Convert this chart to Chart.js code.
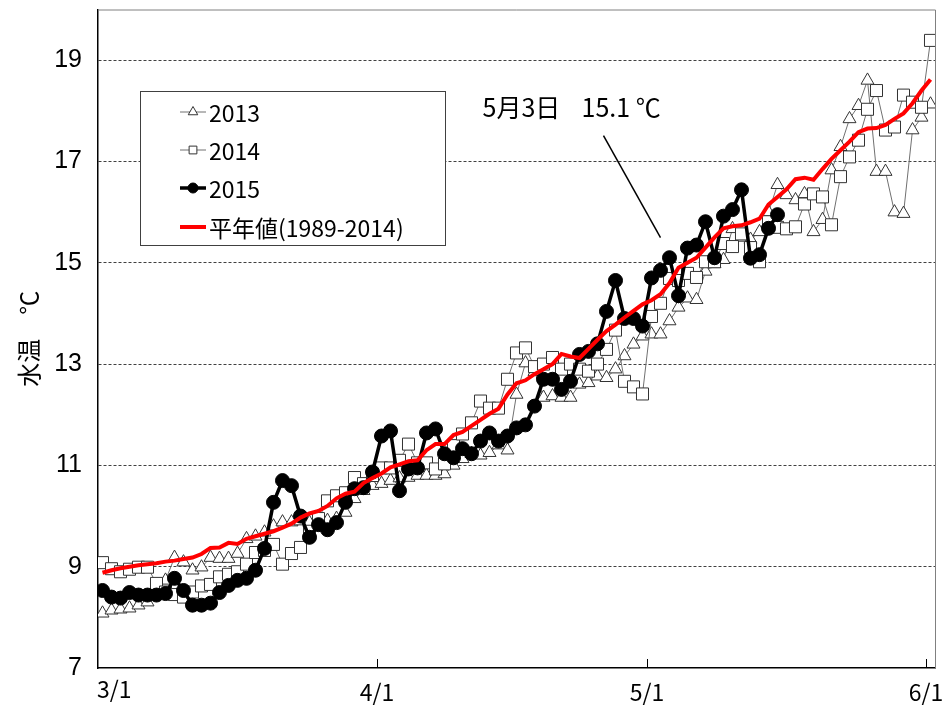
<!DOCTYPE html>
<html>
<head>
<meta charset="utf-8">
<script src="https://cdn.jsdelivr.net/npm/chart.js@4.4.1/dist/chart.umd.min.js"></script>
<style>
  html, body { margin: 0; padding: 0; background: #fff; }
</style>
</head>
<body>
<canvas id="tempChart" width="948" height="713"></canvas>
<script>
// day index: 0 = 3/1, 31 = 4/1, 61 = 5/1, 92 = 6/1
var xTickLabels = ["3/1", "4/1", "5/1", "6/1"];
var xTickDays = [0, 31, 61, 92];
var yTicks = [7, 9, 11, 13, 15, 17, 19];
var seriesNames = ["2013", "2014", "2015", "平年値(1989-2014)"];

var temp2013 = [
  8.08, 8.14, 8.16, 8.18, 8.24, 8.3, 8.5, 8.73, 9.18, 9.09,
  8.93, 8.99, 9.18, 9.16, 9.16, 9.26, 9.55, 9.6, 9.68, 9.8,
  9.88, 9.88, 9.9, 9.87, 9.9, 9.91, 9.95, 10.07, 10.34, 10.5,
  10.6, 10.64, 10.7, 10.75, 10.76, 10.8, 10.8, 10.8, 10.83, 11.0,
  11.13, 11.23, 11.2, 11.25, 11.4, 11.3, 12.4, 13.02, 12.85, 12.34,
  12.37, 12.34, 12.34, 12.6, 12.63, 12.76, 12.73, 12.9, 13.16, 13.39,
  13.55, 13.59, 13.59, 13.85, 14.12, 14.3, 14.27, 14.83, 14.98, 15.06,
  15.67, 15.5, 15.46, 15.61, 16.0, 16.54, 16.34, 16.24, 16.36, 15.61,
  15.85, 16.83, 17.29, 17.84, 18.1, 18.6, 16.8, 16.8, 16.0, 15.97,
  17.62, 17.87, 18.13
];

var temp2014 = [
  9.08, 8.96, 8.9, 8.95, 8.99, 8.99, 8.67, 8.5, 8.45, 8.4,
  8.5, 8.62, 8.65, 8.8, 8.85, 8.9, 9.05, 9.28, 9.32, 9.44,
  9.05, 9.26, 9.38, 9.7, 9.95, 10.3, 10.4, 10.46, 10.76, 10.64,
  10.8, 10.95, 10.95, 11.1, 11.42, 11.05, 11.05, 10.93, 11.03, 11.39,
  11.62, 11.84, 12.27, 12.13, 12.13, 12.7, 13.22, 13.32, 12.95, 13.0,
  13.13, 12.9, 13.0, 12.9, 12.86, 13.0, 13.29, 13.67, 12.66, 12.55,
  12.41, 13.94, 14.2, 14.69, 14.65, 14.79, 14.71, 15.02, 15.02, 15.38,
  15.32, 15.57, 15.3, 15.02, 15.81, 15.7, 15.67, 15.71, 16.16, 16.36,
  16.3, 15.75, 16.7, 17.09, 17.42, 18.03, 18.4, 17.62, 17.68, 18.31,
  18.17, 18.07, 19.39
];

var temp2015 = [
  8.53, 8.4, 8.38, 8.49, 8.44, 8.44, 8.44, 8.47, 8.77, 8.53,
  8.24, 8.24, 8.28, 8.49, 8.63, 8.73, 8.77, 8.93, 9.36, 10.27,
  10.7, 10.6, 10.0, 9.58, 9.83, 9.73, 9.87, 10.27, 10.54, 10.56,
  10.87, 11.58, 11.68, 10.5, 10.93, 10.95, 11.64, 11.72, 11.23, 11.15,
  11.33, 11.23, 11.48, 11.64, 11.48, 11.58, 11.74, 11.8, 12.17, 12.7,
  12.7, 12.5, 12.66, 13.19, 13.25, 13.4, 14.04, 14.65, 13.9, 13.9,
  13.75, 14.7, 14.85, 15.1, 14.35, 15.29, 15.35, 15.81, 15.1, 15.92,
  16.05, 16.44, 15.09, 15.16, 15.68, 15.95
];

var tempNormal = [
  8.88, 8.93, 8.97, 9.0, 9.03, 9.05, 9.07, 9.1, 9.12, 9.15,
  9.18, 9.25, 9.37, 9.38, 9.47, 9.45, 9.55, 9.6, 9.65, 9.7,
  9.77, 9.85, 9.97, 10.05, 10.1, 10.2, 10.35, 10.44, 10.48, 10.65,
  10.75, 10.84, 10.96, 11.02, 11.08, 11.1, 11.3, 11.42, 11.42, 11.6,
  11.66, 11.78, 11.9, 12.02, 12.12, 12.4, 12.62, 12.68, 12.8, 12.9,
  13.0, 13.2, 13.15, 13.12, 13.3, 13.48, 13.65, 13.78, 13.92, 14.05,
  14.18, 14.26, 14.38, 14.6, 14.9, 15.0, 15.1, 15.3, 15.5, 15.68,
  15.72, 15.74, 15.8, 15.87, 16.15, 16.3, 16.45, 16.65, 16.68, 16.64,
  16.85, 17.05, 17.22, 17.39, 17.58, 17.65, 17.66, 17.72, 17.84, 17.95,
  18.15, 18.4, 18.62
];

// annotation: 5/3 of 2015
var noteDay = 63;
var noteLabel = "5月3日";

function toPoints(arr) {
  return arr.map(function (v, i) {
    return { x: i, y: v };
  });
}

var jpFont = '"Noto Sans CJK JP", sans-serif';

// plot frame, inward x tick marks, first date label
var framePlugin = {
  id: "frame",
  beforeDatasetsDraw: function (chart) {
    var ctx = chart.ctx;
    var a = chart.chartArea;
    ctx.save();
    ctx.strokeStyle = "#808080";
    ctx.lineWidth = 1;
    ctx.beginPath();
    ctx.moveTo(a.left, a.top + 0.5);
    ctx.lineTo(a.right + 0.5, a.top + 0.5);
    ctx.lineTo(a.right + 0.5, a.bottom);
    ctx.stroke();
    ctx.strokeStyle = "#000";
    var xs = chart.scales.x;
    xTickDays.forEach(function (d, i) {
      if (i === 0) return;
      var px = Math.round(xs.getPixelForValue(d - 0.5)) + 0.5;
      ctx.beginPath();
      ctx.moveTo(px, a.bottom);
      ctx.lineTo(px, a.bottom - 9);
      ctx.stroke();
    });
    // the 3/1 label sits right of the axis start
    ctx.fillStyle = "#000";
    ctx.font = "23px " + jpFont;
    ctx.textAlign = "left";
    ctx.textBaseline = "top";
    ctx.fillText(xTickLabels[0], a.left - 1, a.bottom + 10);
    ctx.restore();
  },
};

// callout for 2015-05-03
var notePlugin = {
  id: "note",
  afterDatasetsDraw: function (chart) {
    var ctx = chart.ctx;
    var px = chart.scales.x.getPixelForValue(noteDay);
    var py = chart.scales.y.getPixelForValue(temp2015[noteDay]);
    ctx.save();
    ctx.strokeStyle = "#000";
    ctx.lineWidth = 1.5;
    ctx.beginPath();
    ctx.moveTo(px - 66, py - 122);
    ctx.lineTo(px - 9, py - 20);
    ctx.stroke();
    ctx.fillStyle = "#000";
    ctx.font = "25px " + jpFont;
    ctx.textBaseline = "middle";
    ctx.textAlign = "left";
    ctx.fillText(noteLabel, px - 187, py - 150);
    ctx.fillText(temp2015[noteDay].toFixed(1) + " ℃", px - 88, py - 150);
    ctx.restore();
  },
};

// boxed legend inside plot
var legendPlugin = {
  id: "boxLegend",
  afterDraw: function (chart) {
    var ctx = chart.ctx;
    ctx.save();
    ctx.fillStyle = "#fff";
    ctx.fillRect(140.5, 91.5, 305, 154);
    ctx.strokeStyle = "#404040";
    ctx.lineWidth = 1;
    ctx.strokeRect(140.5, 91.5, 305, 154);
    var rows = [112, 150, 188, 227];
    var markRadius = [5.5, 5.5, 5, 0];
    chart.data.datasets.forEach(function (ds, i) {
      var y = rows[i];
      ctx.strokeStyle = ds.borderColor;
      ctx.lineWidth = ds.borderWidth;
      ctx.beginPath();
      ctx.moveTo(180, y);
      ctx.lineTo(206, y);
      ctx.stroke();
      if (markRadius[i] > 0) {
        ctx.fillStyle = ds.pointBackgroundColor;
        ctx.strokeStyle = ds.pointBorderColor;
        ctx.lineWidth = ds.pointBorderWidth;
        Chart.helpers.drawPoint(ctx, {
          pointStyle: ds.pointStyle,
          radius: markRadius[i],
          rotation: 0,
          borderWidth: ds.pointBorderWidth,
        }, 193, y);
      }
      ctx.fillStyle = "#000";
      ctx.font = "23px " + jpFont;
      ctx.textBaseline = "middle";
      ctx.textAlign = "left";
      ctx.fillText(seriesNames[i], 209, y + 1);
    });
    ctx.restore();
  },
};

var ctx = document.getElementById("tempChart").getContext("2d");
var tempChart = new Chart(ctx, {
  type: "line",
  data: {
    datasets: [
      {
        label: seriesNames[0],
        data: toPoints(temp2013),
        borderColor: "#707070",
        borderWidth: 1,
        pointStyle: "triangle",
        pointRadius: 7.5,
        pointBackgroundColor: "#fff",
        pointBorderColor: "#333",
        pointBorderWidth: 1,
        order: 3,
      },
      {
        label: seriesNames[1],
        data: toPoints(temp2014),
        borderColor: "#707070",
        borderWidth: 1,
        pointStyle: "rect",
        pointRadius: 8.5,
        pointBackgroundColor: "#fff",
        pointBorderColor: "#333",
        pointBorderWidth: 1,
        order: 2,
      },
      {
        label: seriesNames[2],
        data: toPoints(temp2015),
        borderColor: "#000",
        borderWidth: 3.5,
        pointStyle: "circle",
        pointRadius: 7,
        pointBackgroundColor: "#000",
        pointBorderColor: "#000",
        pointBorderWidth: 1,
        order: 1,
      },
      {
        label: seriesNames[3],
        data: toPoints(tempNormal),
        borderColor: "#ff0000",
        borderWidth: 4,
        pointRadius: 0,
        order: 0,
      },
    ],
  },
  options: {
    responsive: false,
    devicePixelRatio: 1,
    animation: false,
    layout: { padding: { top: 8, right: 13, left: 0, bottom: 0 } },
    plugins: {
      legend: { display: false },
      tooltip: { enabled: false },
    },
    scales: {
      x: {
        type: "linear",
        min: -0.5,
        max: 92.5,
        afterBuildTicks: function (scale) {
          scale.ticks = xTickDays.map(function (d) {
            return { value: d - 0.5 };
          });
        },
        afterFit: function (scale) {
          scale.height = 45;
          scale.paddingLeft = 0;
          scale.paddingRight = 0;
        },
        ticks: {
          autoSkip: false,
          maxRotation: 0,
          padding: 10,
          color: "#000",
          font: { family: jpFont, size: 23 },
          callback: function (v) {
            var i = xTickDays.indexOf(Math.round(v + 0.5));
            return i > 0 ? xTickLabels[i] : "";
          },
        },
        grid: { display: false, drawTicks: false },
        border: { display: true, color: "#000", width: 1.5 },
      },
      y: {
        min: 7,
        max: 20,
        afterBuildTicks: function (scale) {
          scale.ticks = yTicks.map(function (v) {
            return { value: v };
          });
        },
        afterFit: function (scale) {
          scale.width = 98;
          scale.paddingTop = 0;
          scale.paddingBottom = 0;
        },
        ticks: {
          padding: 16,
          color: "#000",
          font: { family: '"Liberation Sans", Arial, sans-serif', size: 25 },
        },
        grid: {
          drawTicks: false,
          lineWidth: 1,
          color: function (c) {
            return c.tick && c.tick.value === 7 ? "rgba(0,0,0,0)" : "#404040";
          },
        },
        border: { display: true, color: "#000", width: 1.5, dash: [3, 2] },
        title: {
          display: true,
          text: "水温　℃",
          color: "#000",
          font: { family: jpFont, size: 24 },
          padding: { top: 14, bottom: 0 },
        },
      },
    },
  },
  plugins: [framePlugin, notePlugin, legendPlugin],
});
</script>
</body>
</html>
